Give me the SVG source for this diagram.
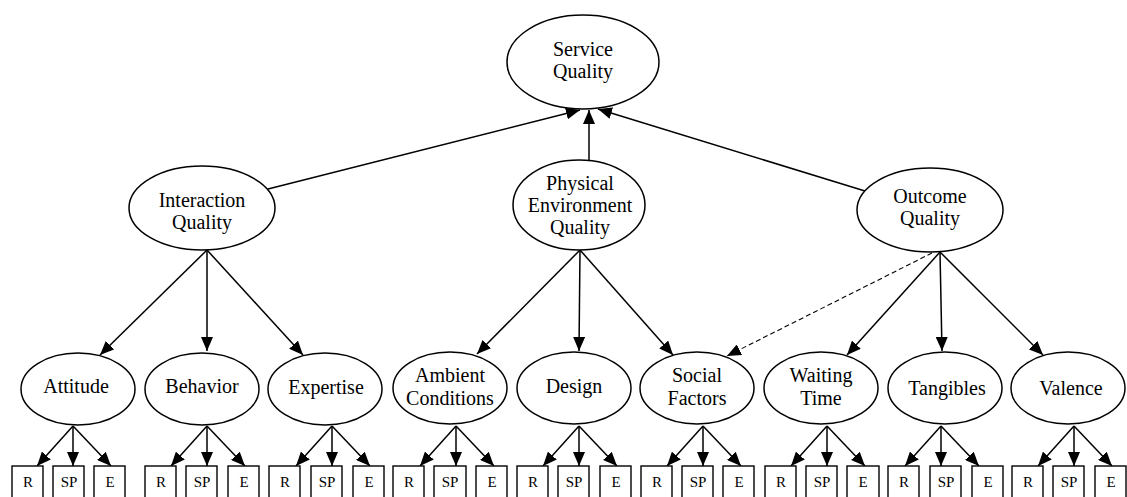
<svg xmlns="http://www.w3.org/2000/svg" width="1127" height="497" viewBox="0 0 1127 497">
<defs>
<marker id="ah" markerUnits="userSpaceOnUse" markerWidth="14" markerHeight="12" refX="14" refY="6" orient="auto" viewBox="0 0 14 12">
<path d="M0,0 L14,6 L0,12 z" fill="#000"/>
</marker>
<style>
.n{fill:#fff;stroke:#000;stroke-width:1.5}
.b{fill:#fff;stroke:#000;stroke-width:1.4}
.t{font-family:"Liberation Serif","Times New Roman",serif;font-size:20px;fill:#000;text-anchor:middle}
.s{font-family:"Liberation Serif","Times New Roman",serif;font-size:15px;fill:#000;text-anchor:middle}
.c{stroke:#000;stroke-width:1.5;fill:none;marker-end:url(#ah)}
.d{stroke:#000;stroke-width:1.1;fill:none;stroke-dasharray:5,3;marker-end:url(#ah)}
</style>
</defs>
<rect width="1127" height="497" fill="#fff"/>
<g id="connectors">
<line class="c" x1="268" y1="189" x2="580" y2="110"/>
<line class="c" x1="589" y1="160" x2="589" y2="110"/>
<line class="c" x1="865" y1="191" x2="598" y2="109"/>
<line class="c" x1="207" y1="250" x2="100" y2="355"/>
<line class="c" x1="207" y1="250" x2="207" y2="351"/>
<line class="c" x1="207" y1="250" x2="303" y2="355"/>
<line class="c" x1="580" y1="250" x2="477" y2="354"/>
<line class="c" x1="580" y1="250" x2="579" y2="351"/>
<line class="c" x1="580" y1="250" x2="673" y2="355"/>
<line class="c" x1="940" y1="252" x2="847" y2="355"/>
<line class="c" x1="940" y1="252" x2="942" y2="351"/>
<line class="c" x1="940" y1="252" x2="1043" y2="355"/>
<line class="d" x1="932" y1="253" x2="727" y2="356"/>
<g id="leaf-arrows">
<path class="c" d="M73,426 L37,466"/><path class="c" d="M73,426 L73,466"/><path class="c" d="M73,426 L111,466"/>
<path class="c" d="M207,426 L171,466"/><path class="c" d="M207,426 L207,466"/><path class="c" d="M207,426 L245,466"/>
<path class="c" d="M332,426 L296,466"/><path class="c" d="M332,426 L332,466"/><path class="c" d="M332,426 L370,466"/>
<path class="c" d="M456,426 L420,466"/><path class="c" d="M456,426 L456,466"/><path class="c" d="M456,426 L494,466"/>
<path class="c" d="M579,426 L543,466"/><path class="c" d="M579,426 L579,466"/><path class="c" d="M579,426 L617,466"/>
<path class="c" d="M703,426 L667,466"/><path class="c" d="M703,426 L703,466"/><path class="c" d="M703,426 L741,466"/>
<path class="c" d="M827,426 L791,466"/><path class="c" d="M827,426 L827,466"/><path class="c" d="M827,426 L865,466"/>
<path class="c" d="M941,426 L905,466"/><path class="c" d="M941,426 L941,466"/><path class="c" d="M941,426 L979,466"/>
<path class="c" d="M1074,426 L1038,466"/><path class="c" d="M1074,426 L1074,466"/><path class="c" d="M1074,426 L1112,466"/>
</g>
</g>
<g id="service-quality"><ellipse class="n" cx="583" cy="62" rx="76" ry="47"/><text class="t" x="583" y="56">Service</text><text class="t" x="583" y="78">Quality</text></g>
<g id="interaction-quality"><ellipse class="n" cx="202" cy="208" rx="73" ry="42"/><text class="t" x="202" y="207">Interaction</text><text class="t" x="202" y="229">Quality</text></g>
<g id="physical-environment-quality"><ellipse class="n" cx="579" cy="205" rx="66" ry="45"/><text class="t" x="580" y="190">Physical</text><text class="t" x="580" y="212">Environment</text><text class="t" x="580" y="234">Quality</text></g>
<g id="outcome-quality"><ellipse class="n" cx="930" cy="210" rx="73" ry="42"/><text class="t" x="930" y="203">Outcome</text><text class="t" x="930" y="225">Quality</text></g>
<g id="attitude"><ellipse class="n" cx="78" cy="389" rx="57" ry="36"/><text class="t" x="76" y="393">Attitude</text></g>
<g id="behavior"><ellipse class="n" cx="202" cy="389" rx="57" ry="36"/><text class="t" x="202" y="393">Behavior</text></g>
<g id="expertise"><ellipse class="n" cx="325" cy="389" rx="57" ry="36"/><text class="t" x="326" y="394">Expertise</text></g>
<g id="ambient-conditions"><ellipse class="n" cx="450" cy="388" rx="57" ry="36"/><text class="t" x="450" y="382">Ambient</text><text class="t" x="450" y="405">Conditions</text></g>
<g id="design"><ellipse class="n" cx="574" cy="388" rx="57" ry="36"/><text class="t" x="574" y="393">Design</text></g>
<g id="social-factors"><ellipse class="n" cx="697" cy="388" rx="57" ry="36"/><text class="t" x="697" y="382">Social</text><text class="t" x="697" y="405">Factors</text></g>
<g id="waiting-time"><ellipse class="n" cx="821" cy="388" rx="57" ry="36"/><text class="t" x="821" y="382">Waiting</text><text class="t" x="821" y="405">Time</text></g>
<g id="tangibles"><ellipse class="n" cx="945" cy="388" rx="57" ry="36"/><text class="t" x="947" y="395">Tangibles</text></g>
<g id="valence"><ellipse class="n" cx="1068" cy="388" rx="57" ry="36"/><text class="t" x="1071" y="395">Valence</text></g>
<g id="indicators">
<g id="ind-attitude"><rect class="b" x="12" y="466" width="31" height="34"/><rect class="b" x="53" y="466" width="31" height="34"/><rect class="b" x="94" y="466" width="31" height="34"/><text class="s" x="28" y="487">R</text><text class="s" x="69" y="487">SP</text><text class="s" x="110" y="487">E</text></g>
<g id="ind-behavior"><rect class="b" x="145" y="466" width="31" height="34"/><rect class="b" x="186" y="466" width="31" height="34"/><rect class="b" x="228" y="466" width="31" height="34"/><text class="s" x="161" y="487">R</text><text class="s" x="202" y="487">SP</text><text class="s" x="244" y="487">E</text></g>
<g id="ind-expertise"><rect class="b" x="269" y="466" width="31" height="34"/><rect class="b" x="311" y="466" width="31" height="34"/><rect class="b" x="353" y="466" width="31" height="34"/><text class="s" x="285" y="487">R</text><text class="s" x="327" y="487">SP</text><text class="s" x="369" y="487">E</text></g>
<g id="ind-ambient"><rect class="b" x="393" y="466" width="31" height="34"/><rect class="b" x="434" y="466" width="32" height="34"/><rect class="b" x="476" y="466" width="31" height="34"/><text class="s" x="409" y="487">R</text><text class="s" x="450" y="487">SP</text><text class="s" x="492" y="487">E</text></g>
<g id="ind-design"><rect class="b" x="517" y="466" width="31" height="34"/><rect class="b" x="558" y="466" width="31" height="34"/><rect class="b" x="600" y="466" width="31" height="34"/><text class="s" x="533" y="487">R</text><text class="s" x="574" y="487">SP</text><text class="s" x="616" y="487">E</text></g>
<g id="ind-social"><rect class="b" x="641" y="466" width="31" height="34"/><rect class="b" x="682" y="466" width="31" height="34"/><rect class="b" x="723" y="466" width="31" height="34"/><text class="s" x="657" y="487">R</text><text class="s" x="698" y="487">SP</text><text class="s" x="739" y="487">E</text></g>
<g id="ind-waiting"><rect class="b" x="765" y="466" width="31" height="34"/><rect class="b" x="806" y="466" width="31" height="34"/><rect class="b" x="847" y="466" width="32" height="34"/><text class="s" x="781" y="487">R</text><text class="s" x="822" y="487">SP</text><text class="s" x="863" y="487">E</text></g>
<g id="ind-tangibles"><rect class="b" x="888" y="466" width="31" height="34"/><rect class="b" x="930" y="466" width="31" height="34"/><rect class="b" x="972" y="466" width="31" height="34"/><text class="s" x="904" y="487">R</text><text class="s" x="946" y="487">SP</text><text class="s" x="988" y="487">E</text></g>
<g id="ind-valence"><rect class="b" x="1012" y="466" width="31" height="34"/><rect class="b" x="1053" y="466" width="31" height="34"/><rect class="b" x="1095" y="466" width="31" height="34"/><text class="s" x="1028" y="487">R</text><text class="s" x="1069" y="487">SP</text><text class="s" x="1111" y="487">E</text></g>
</g>
</svg>
